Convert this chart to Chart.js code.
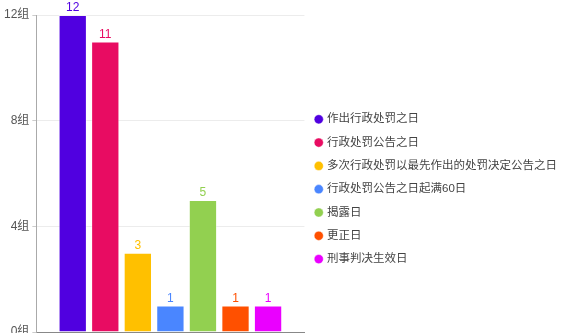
<!DOCTYPE html>
<html>
<head>
<meta charset="utf-8">
<script src="https://cdn.jsdelivr.net/npm/chart.js@4/dist/chart.umd.min.js"></script>
<style>
  html, body { margin: 0; padding: 0; background: #fff; }
  #wrap { width: 567px; height: 333px; position: relative; }
</style>
</head>
<body>
<div id="wrap"><canvas id="c"></canvas></div>
<script>
// Groups of listings by the date used as reference
const seriesNames = [
  '作出行政处罚之日',
  '行政处罚公告之日',
  '多次行政处罚以最先作出的处罚决定公告之日',
  '行政处罚公告之日起满60日',
  '揭露日',
  '更正日',
  '刑事判决生效日'
];
const seriesValues = [12, 11, 3, 1, 5, 1, 1];
const seriesColors = ['#5000e0', '#e80c62', '#ffc000', '#4a86ff', '#92d050', '#ff5000', '#ea00ff'];
const yTicks = [0, 4, 8, 12];
const tickUnit = '组';

const FONT = "'Liberation Sans', 'Noto Sans CJK SC', sans-serif";

// Value labels drawn above each bar in the bar's own colour
const valueLabels = {
  id: 'valueLabels',
  afterDatasetsDraw(chart) {
    const ctx = chart.ctx;
    ctx.save();
    ctx.font = '12px ' + FONT;
    ctx.textAlign = 'center';
    ctx.textBaseline = 'bottom';
    chart.data.datasets.forEach((ds, i) => {
      const meta = chart.getDatasetMeta(i);
      if (meta.hidden) return;
      meta.data.forEach((bar, j) => {
        ctx.fillStyle = ds.backgroundColor;
        ctx.fillText(String(ds.data[j]), bar.x, bar.y - 1);
      });
    });
    ctx.restore();
  }
};

const datasets = seriesNames.map((name, i) => ({
  label: name,
  data: [seriesValues[i]],
  backgroundColor: seriesColors[i],
  borderColor: 'rgba(255,255,255,0.45)',
  borderWidth: 1,
  categoryPercentage: 0.85,
  barPercentage: 0.87
}));

new Chart(document.getElementById('c'), {
  type: 'bar',
  data: { labels: [''], datasets },
  options: {
    responsive: true,
    maintainAspectRatio: false,
    animation: false,
    layout: { padding: { top: 15, left: 1, right: 0, bottom: 0 } },
    plugins: {
      legend: {
        position: 'right',
        maxWidth: 264,
        title: { display: true, text: '', padding: { top: 16, bottom: 0 } },
        labels: {
          usePointStyle: true,
          pointStyle: 'circle',
          boxWidth: 5,
          boxHeight: 6.5,
          padding: 11.8,
          color: '#444',
          font: { size: 11.5, family: FONT }
        }
      },
      tooltip: { enabled: false }
    },
    scales: {
      x: {
        ticks: { display: false },
        grid: { display: false },
        border: { display: true, color: '#888', width: 1 },
        afterFit(scale) { scale.height = 1; }
      },
      y: {
        min: yTicks[0],
        max: yTicks[yTicks.length - 1],
        afterBuildTicks(scale) { scale.ticks = yTicks.map(v => ({ value: v })); },
        afterFit(scale) { scale.paddingTop = 0; scale.paddingBottom = 0; },
        ticks: {
          color: '#555',
          padding: 3,
          font: { size: 12, family: FONT },
          callback: v => v + tickUnit
        },
        grid: { color: '#ececec', tickLength: 4, tickColor: '#ccc' },
        border: { display: true, color: '#aaa', width: 1 }
      }
    }
  },
  plugins: [valueLabels]
});
</script>
</body>
</html>
